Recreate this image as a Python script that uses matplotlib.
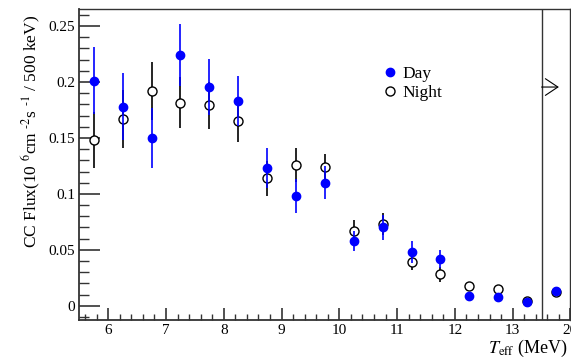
import matplotlib
matplotlib.use("Agg")
import matplotlib.pyplot as plt
from matplotlib.ticker import MultipleLocator, FixedLocator
from matplotlib.lines import Line2D

plt.rcParams['font.family'] = ['Liberation Serif', 'DejaVu Serif']
plt.rcParams['mathtext.fontset'] = 'stix'

# bin centres (last bin 13.5-20 MeV drawn compressed into 13.5-14)
x_centers = [5.75, 6.25, 6.75, 7.25, 7.75, 8.25, 8.75, 9.25, 9.75,
             10.25, 10.75, 11.25, 11.75, 12.25, 12.75, 13.25, 13.75]
day_vals = [0.201, 0.178, 0.150, 0.224, 0.1955, 0.183, 0.123, 0.098, 0.110,
            0.058, 0.070, 0.048, 0.042, 0.009, 0.008, 0.003, 0.013]
day_errs = [0.030, 0.030, 0.027, 0.028, 0.025, 0.022, 0.018, 0.015, 0.015,
            0.009, 0.011, 0.010, 0.008, 0.003, 0.003, 0.002, 0.002]
night_vals = [0.148, 0.167, 0.192, 0.1815, 0.179, 0.165, 0.114, 0.126, 0.124,
              0.067, 0.073, 0.039, 0.028, 0.0175, 0.015, 0.0045, 0.012]
night_errs = [0.025, 0.026, 0.026, 0.023, 0.021, 0.019, 0.0155, 0.015, 0.012,
              0.010, 0.010, 0.007, 0.007, 0.003, 0.003, 0.002, 0.002]

xtick_pos = [6, 7, 8, 9, 10, 11, 12, 13, 14]
xtick_labels = ["6", "7", "8", "9", "10", "11", "12", "13", "20"]
ytick_pos = [0, 0.05, 0.1, 0.15, 0.2, 0.25]
ytick_labels = ["0", "0.05", "0.1", "0.15", "0.2", "0.25"]
break_x = 13.5
arrow_len = 0.3
arrow_y = 0.1955

fig = plt.figure(figsize=(5.71, 3.57), dpi=100)
ax = fig.add_axes([0.139, 0.1028, 0.860, 0.8712])

ax.errorbar(x_centers, day_vals, yerr=day_errs, fmt='o', color='#0000ff',
            ecolor='#0000ff', elinewidth=1.2, capsize=0, markersize=6,
            zorder=3)
ax.errorbar(x_centers, night_vals, yerr=night_errs, fmt='o', color='black',
            mfc='white', mec='black', ecolor='black', elinewidth=1.2,
            capsize=0, markersize=6.5, mew=1.0, zorder=2)

ax.axvline(break_x, color='#333333', lw=1.0)
ax.annotate('', xy=(break_x + arrow_len, arrow_y), xytext=(break_x, arrow_y),
            arrowprops=dict(arrowstyle='->,head_length=0.45,head_width=0.3',
                            lw=0.8, color='black', mutation_scale=20,
                            shrinkA=0, shrinkB=0))

ax.set_xlim(5.5, 14)
ax.set_ylim(-0.013, 0.265)
ax.xaxis.set_major_locator(FixedLocator(xtick_pos))
ax.set_xticklabels(xtick_labels)
ax.xaxis.set_minor_locator(MultipleLocator(0.2))
ax.yaxis.set_major_locator(FixedLocator(ytick_pos))
ax.set_yticklabels(ytick_labels)
ax.yaxis.set_minor_locator(MultipleLocator(0.01))

ax.tick_params(axis='both', which='both', direction='in', top=False,
               right=False, labelsize=11, colors='#333333', labelcolor='black')
ax.tick_params(axis='y', which='major', length=15, width=1.2, pad=3)
ax.tick_params(axis='y', which='minor', length=7.5, width=1.0)
ax.tick_params(axis='x', which='major', length=9, width=1.2, pad=3)
ax.tick_params(axis='x', which='minor', length=4.5, width=1.0)

for s in ax.spines.values():
    s.set_color('#333333')
    s.set_linewidth(1.0)
ax.spines['left'].set_linewidth(1.3)
ax.spines['bottom'].set_linewidth(1.3)

ax.set_ylabel(r"CC Flux(10 $^{\text{6}}$cm $^{\text{-2}}$s $^{\text{-1}}$ / 500 keV)",
              fontsize=12.5, loc='top')
ax.yaxis.set_label_coords(-0.074, 0.982)
ax.set_xlabel(r"$T_{\rm eff}$ (MeV)", fontsize=13, loc='right')
ax.xaxis.set_label_coords(0.995, -0.055)

handles = [Line2D([], [], marker='o', ls='none', color='#0000ff', markersize=6),
           Line2D([], [], marker='o', ls='none', mfc='white', mec='black',
                  markersize=6.5, mew=1.0)]
ax.legend(handles, ['Day', 'Night'], loc='upper left',
          bbox_to_anchor=(0.597, 0.84), frameon=False, fontsize=12.5,
          handletextpad=0.1, labelspacing=0.15, handlelength=1.2,
          borderaxespad=0)

fig.savefig('out.png', dpi=100)
